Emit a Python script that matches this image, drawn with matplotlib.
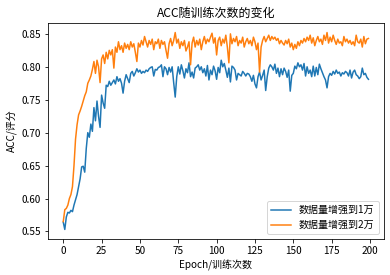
import matplotlib
matplotlib.use("Agg")
import matplotlib.pyplot as plt

plt.rcParams['font.family'] = ['Noto Sans CJK SC', 'DejaVu Sans']
plt.rcParams['axes.unicode_minus'] = False

acc_1w = [
    0.564, 0.553, 0.572, 0.579, 0.578, 0.582, 0.580, 0.590, 0.598, 0.606,
    0.618, 0.630, 0.648, 0.649, 0.640, 0.676, 0.700, 0.693, 0.713, 0.702,
    0.738, 0.718, 0.748, 0.725, 0.708, 0.757, 0.745, 0.737, 0.772, 0.770,
    0.778, 0.772, 0.776, 0.780, 0.774, 0.785, 0.778, 0.782, 0.775, 0.760,
    0.778, 0.788, 0.782, 0.776, 0.790, 0.793, 0.786, 0.791, 0.797, 0.792,
    0.795, 0.790, 0.793, 0.791, 0.795, 0.793, 0.797, 0.799, 0.800, 0.786,
    0.796, 0.795, 0.799, 0.800, 0.803, 0.785, 0.800, 0.797, 0.788, 0.799,
    0.792, 0.800, 0.776, 0.754, 0.785, 0.800, 0.789, 0.803, 0.794, 0.783,
    0.797, 0.791, 0.806, 0.785, 0.792, 0.783, 0.798, 0.800, 0.803, 0.795,
    0.800, 0.791, 0.797, 0.786, 0.802, 0.780, 0.795, 0.788, 0.801, 0.794,
    0.781, 0.799, 0.791, 0.810, 0.800, 0.805, 0.795, 0.784, 0.798, 0.777,
    0.801, 0.799, 0.795, 0.780, 0.790, 0.788, 0.786, 0.793, 0.790, 0.786,
    0.790, 0.789, 0.785, 0.778, 0.787, 0.774, 0.768, 0.785, 0.792, 0.780,
    0.787, 0.795, 0.764, 0.785, 0.798, 0.803, 0.800, 0.795, 0.804, 0.790,
    0.798, 0.785, 0.797, 0.788, 0.798, 0.793, 0.784, 0.795, 0.763, 0.787,
    0.790, 0.801, 0.797, 0.806, 0.800, 0.803, 0.795, 0.805, 0.786, 0.800,
    0.790, 0.795, 0.785, 0.801, 0.786, 0.799, 0.788, 0.804, 0.797, 0.791,
    0.785, 0.780, 0.768, 0.785, 0.790, 0.787, 0.793, 0.789, 0.795, 0.790,
    0.792, 0.786, 0.791, 0.789, 0.793, 0.791, 0.786, 0.795, 0.783, 0.792,
    0.795, 0.788, 0.786, 0.782, 0.785, 0.798, 0.788, 0.790, 0.784, 0.781,
]

acc_2w = [
    0.565, 0.583, 0.585, 0.590, 0.600, 0.606, 0.618, 0.650, 0.690, 0.712,
    0.727, 0.733, 0.740, 0.748, 0.756, 0.762, 0.775, 0.780, 0.786, 0.796,
    0.808, 0.790, 0.810, 0.800, 0.776, 0.812, 0.818, 0.805, 0.822, 0.812,
    0.825, 0.818, 0.826, 0.798, 0.830, 0.822, 0.838, 0.826, 0.832, 0.822,
    0.836, 0.828, 0.834, 0.826, 0.838, 0.830, 0.835, 0.822, 0.808, 0.836,
    0.830, 0.840, 0.833, 0.846, 0.838, 0.830, 0.840, 0.834, 0.842, 0.826,
    0.838, 0.835, 0.842, 0.828, 0.840, 0.834, 0.838, 0.825, 0.813, 0.835,
    0.843, 0.832, 0.840, 0.852, 0.836, 0.842, 0.828, 0.838, 0.832, 0.840,
    0.824, 0.830, 0.838, 0.803, 0.836, 0.845, 0.830, 0.840, 0.833, 0.842,
    0.826, 0.838, 0.846, 0.835, 0.842, 0.838, 0.845, 0.851, 0.836, 0.844,
    0.818, 0.840, 0.845, 0.832, 0.842, 0.836, 0.848, 0.830, 0.806, 0.850,
    0.835, 0.843, 0.838, 0.846, 0.832, 0.840, 0.836, 0.845, 0.830, 0.838,
    0.843, 0.835, 0.840, 0.832, 0.845, 0.838, 0.826, 0.836, 0.792, 0.830,
    0.840, 0.846, 0.838, 0.843, 0.848, 0.840, 0.846, 0.842, 0.845, 0.840,
    0.843, 0.835, 0.840, 0.836, 0.833, 0.840, 0.835, 0.842, 0.830, 0.836,
    0.826, 0.834, 0.828, 0.838, 0.832, 0.840, 0.836, 0.843, 0.838, 0.845,
    0.840, 0.848, 0.836, 0.844, 0.832, 0.840, 0.846, 0.838, 0.842, 0.834,
    0.848, 0.840, 0.852, 0.836, 0.845, 0.838, 0.848, 0.840, 0.834, 0.842,
    0.836, 0.838, 0.832, 0.846, 0.838, 0.842, 0.836, 0.840, 0.834, 0.838,
    0.832, 0.848, 0.838, 0.836, 0.842, 0.830, 0.846, 0.835, 0.842, 0.843,
]

epochs = list(range(len(acc_1w)))

fig = plt.figure(figsize=(390 / 72, 275 / 72), dpi=72)
ax = fig.add_axes([48 / 390, 1 - 239.3 / 275, 335.7 / 390, 216.6 / 275])

ax.plot(epochs, acc_1w, label="数据量增强到1万")
ax.plot(epochs, acc_2w, label="数据量增强到2万")
ax.set_title("ACC随训练次数的变化")
ax.set_xlabel("Epoch/训练次数")
ax.set_ylabel("ACC/评分")
ax.legend(loc="lower right")

fig.savefig("out.png", dpi=72)
